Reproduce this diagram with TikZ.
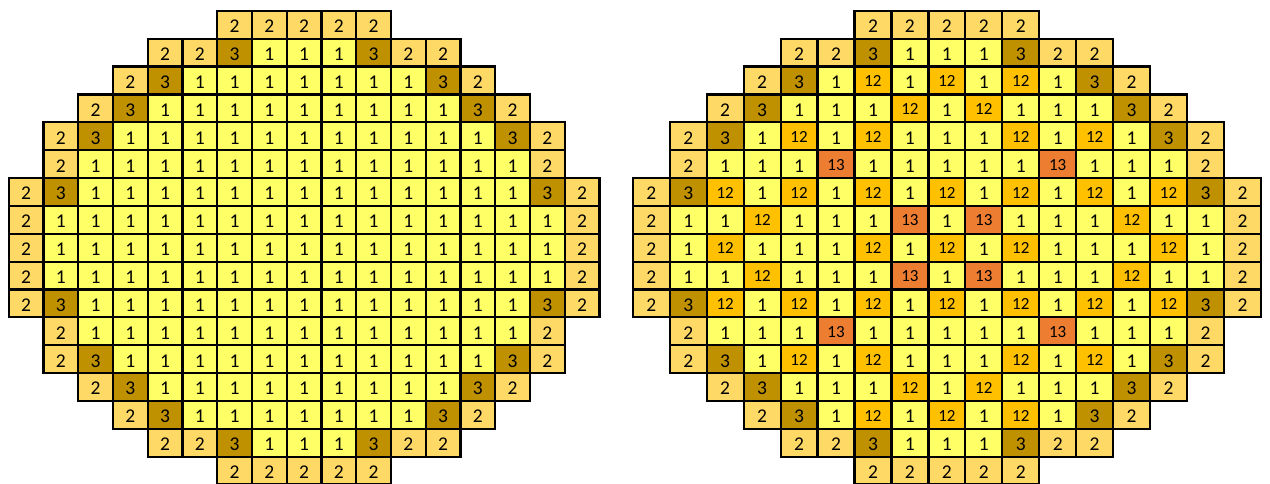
\documentclass[tikz,border=0pt]{standalone}
\usepackage{fontspec}
\setmainfont{Carlito}
\definecolor{cone}{HTML}{FFFF66}
\definecolor{ctwo}{HTML}{FFD966}
\definecolor{cthree}{HTML}{BF9000}
\definecolor{ctwelve}{HTML}{FFC000}
\definecolor{cthirteen}{HTML}{ED7D31}
\newcommand\gridrow[6]{%
  \foreach \v [count=\k from #5] in {#6} {
    \node[cell, v\v, minimum width=#3pt] (#1-#4-\k) at ({#2+(\k+0.5)*#3}, {10.8+(#4+0.5)*27.87}) {\v};
  }}
\begin{document}
\begin{tikzpicture}[x=1pt,y=-1pt,
  cell/.style={draw=black, line width=2.2pt, minimum height=27.87pt, inner sep=0pt, text=black},
  big/.style={font=\fontsize{19.5}{21}\selectfont, text height=15.9pt, text depth=0pt},
  small/.style={font=\fontsize{17}{19}\selectfont, text height=12.3pt, text depth=0pt},
  v1/.style={fill=cone, big},
  v2/.style={fill=ctwo, big},
  v3/.style={fill=cthree, big},
  v12/.style={fill=ctwelve, small},
  v13/.style={fill=cthirteen, small}]
\useasboundingbox (0,0) rectangle (1270,484);
% left grid
\gridrow{L}{8.8}{34.75}{0}{6}{2,2,2,2,2}
\gridrow{L}{8.8}{34.75}{1}{4}{2,2,3,1,1,1,3,2,2}
\gridrow{L}{8.8}{34.75}{2}{3}{2,3,1,1,1,1,1,1,1,3,2}
\gridrow{L}{8.8}{34.75}{3}{2}{2,3,1,1,1,1,1,1,1,1,1,3,2}
\gridrow{L}{8.8}{34.75}{4}{1}{2,3,1,1,1,1,1,1,1,1,1,1,1,3,2}
\gridrow{L}{8.8}{34.75}{5}{1}{2,1,1,1,1,1,1,1,1,1,1,1,1,1,2}
\gridrow{L}{8.8}{34.75}{6}{0}{2,3,1,1,1,1,1,1,1,1,1,1,1,1,1,3,2}
\gridrow{L}{8.8}{34.75}{7}{0}{2,1,1,1,1,1,1,1,1,1,1,1,1,1,1,1,2}
\gridrow{L}{8.8}{34.75}{8}{0}{2,1,1,1,1,1,1,1,1,1,1,1,1,1,1,1,2}
\gridrow{L}{8.8}{34.75}{9}{0}{2,1,1,1,1,1,1,1,1,1,1,1,1,1,1,1,2}
\gridrow{L}{8.8}{34.75}{10}{0}{2,3,1,1,1,1,1,1,1,1,1,1,1,1,1,3,2}
\gridrow{L}{8.8}{34.75}{11}{1}{2,1,1,1,1,1,1,1,1,1,1,1,1,1,2}
\gridrow{L}{8.8}{34.75}{12}{1}{2,3,1,1,1,1,1,1,1,1,1,1,1,3,2}
\gridrow{L}{8.8}{34.75}{13}{2}{2,3,1,1,1,1,1,1,1,1,1,3,2}
\gridrow{L}{8.8}{34.75}{14}{3}{2,3,1,1,1,1,1,1,1,3,2}
\gridrow{L}{8.8}{34.75}{15}{4}{2,2,3,1,1,1,3,2,2}
\gridrow{L}{8.8}{34.75}{16}{6}{2,2,2,2,2}
% right grid
\gridrow{R}{632.8}{36.95}{0}{6}{2,2,2,2,2}
\gridrow{R}{632.8}{36.95}{1}{4}{2,2,3,1,1,1,3,2,2}
\gridrow{R}{632.8}{36.95}{2}{3}{2,3,1,12,1,12,1,12,1,3,2}
\gridrow{R}{632.8}{36.95}{3}{2}{2,3,1,1,1,12,1,12,1,1,1,3,2}
\gridrow{R}{632.8}{36.95}{4}{1}{2,3,1,12,1,12,1,1,1,12,1,12,1,3,2}
\gridrow{R}{632.8}{36.95}{5}{1}{2,1,1,1,13,1,1,1,1,1,13,1,1,1,2}
\gridrow{R}{632.8}{36.95}{6}{0}{2,3,12,1,12,1,12,1,12,1,12,1,12,1,12,3,2}
\gridrow{R}{632.8}{36.95}{7}{0}{2,1,1,12,1,1,1,13,1,13,1,1,1,12,1,1,2}
\gridrow{R}{632.8}{36.95}{8}{0}{2,1,12,1,1,1,12,1,12,1,12,1,1,1,12,1,2}
\gridrow{R}{632.8}{36.95}{9}{0}{2,1,1,12,1,1,1,13,1,13,1,1,1,12,1,1,2}
\gridrow{R}{632.8}{36.95}{10}{0}{2,3,12,1,12,1,12,1,12,1,12,1,12,1,12,3,2}
\gridrow{R}{632.8}{36.95}{11}{1}{2,1,1,1,13,1,1,1,1,1,13,1,1,1,2}
\gridrow{R}{632.8}{36.95}{12}{1}{2,3,1,12,1,12,1,1,1,12,1,12,1,3,2}
\gridrow{R}{632.8}{36.95}{13}{2}{2,3,1,1,1,12,1,12,1,1,1,3,2}
\gridrow{R}{632.8}{36.95}{14}{3}{2,3,1,12,1,12,1,12,1,3,2}
\gridrow{R}{632.8}{36.95}{15}{4}{2,2,3,1,1,1,3,2,2}
\gridrow{R}{632.8}{36.95}{16}{6}{2,2,2,2,2}
\end{tikzpicture}
\end{document}
